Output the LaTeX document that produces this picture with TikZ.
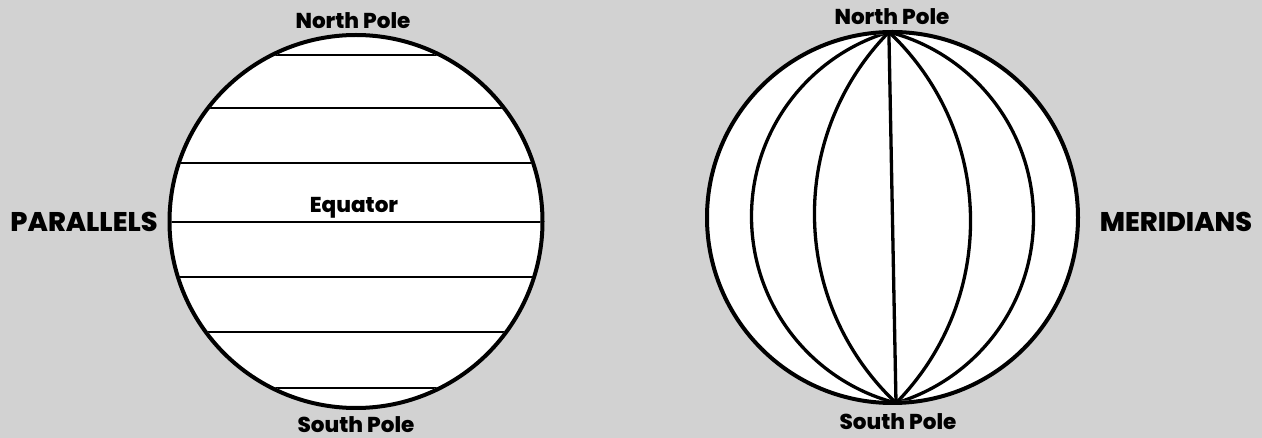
\documentclass[tikz,border=0pt]{standalone}
\usepackage{fontspec}
\setmainfont{Poppins}[BoldFont={* ExtraBold}]
\definecolor{bg}{RGB}{210,210,210}
\begin{document}
\begin{tikzpicture}[x=1pt,y=-1pt,
  globe/.style={circle, draw=black, fill=white, line width=4pt, minimum size=#1, inner sep=0pt},
  pole/.style={font=\bfseries\fontsize{21.5}{21.5}\selectfont, inner sep=0pt, anchor=base},
  title/.style={font=\bfseries\fontsize{27}{27}\selectfont, inner sep=0pt, anchor=base},
  gridline/.style={line width=2.8pt},
  meridian/.style={line width=3.3pt}]
\fill[bg] (0,0) rectangle (1262,438);
\useasboundingbox (0,0) rectangle (1262,438);
% left globe: parallels
\node[globe=373pt] (L) at (356,221.5) {};
\begin{scope}
  \clip (L.center) circle[radius=184.5pt];
  \foreach \yy in {55,108,163,222,277,332,388}
    \draw[gridline] (150,\yy) -- (560,\yy);
\end{scope}
\node[pole] (np1) at (353,29) {North Pole};
\node[pole] (sp1) at (356,432) {South Pole};
\node[pole] (eq) at (354,213) {Equator};
\node[title] (par) at (84,232) {PARALLELS};
% right globe: meridians
\node[globe=371pt] (R) at (892.5,217.5) {};
\begin{scope}[rotate around={1.1:(R.center)}]
  \coordinate (N) at (892.5,32);
  \coordinate (S) at (892.5,403);
  \clip (R.center) circle[radius=183.5pt];
  \draw[meridian] (892.5+51.5,217.5) circle[radius=192.5pt];
  \draw[meridian] (892.5-51.5,217.5) circle[radius=192.5pt];
  \draw[meridian] (892.5+181.6,217.5) circle[radius=259.6pt];
  \draw[meridian] (892.5-181.6,217.5) circle[radius=259.6pt];
  \draw[meridian] (N) -- (S);
\end{scope}
\node[pole] (np2) at (892,25) {North Pole};
\node[pole] (sp2) at (898,430) {South Pole};
\node[title] (mer) at (1176,232) {MERIDIANS};
\end{tikzpicture}
\end{document}
